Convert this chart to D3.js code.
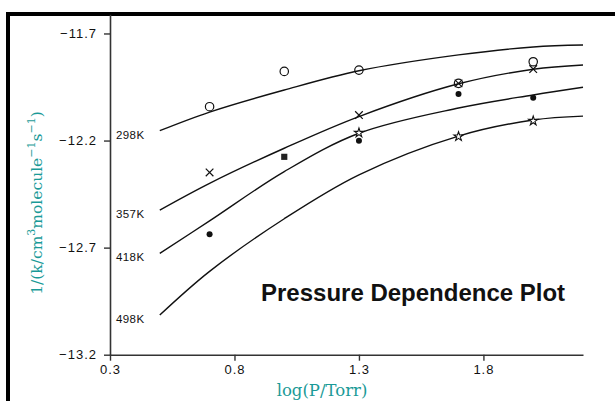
<!DOCTYPE html>
<html><head><meta charset="utf-8">
<script src="https://cdn.jsdelivr.net/npm/d3@7"></script>
<style>body{margin:0;background:#fff}svg{display:block}</style>
</head><body>
<script>
// ---- data ----
const xTicks = [0.3, 0.8, 1.3, 1.8];
const yTicks = [-13.2, -12.7, -12.2, -11.7];
const curveLabels = ["298K", "357K", "418K", "498K"];
const curveX = [0.5, 0.7, 1.0, 1.3, 1.7, 2.0, 2.2];
const curve298 = [-12.154, -12.067, -11.964, -11.874, -11.800, -11.763, -11.754];
const curve357 = [-12.525, -12.400, -12.236, -12.088, -11.935, -11.867, -11.847];
const curve418 = [-12.727, -12.575, -12.345, -12.166, -12.048, -11.987, -11.951];
const curve498 = [-13.015, -12.811, -12.565, -12.360, -12.179, -12.104, -12.086];
const circleX = [0.7, 1.0, 1.3, 1.7, 2.0];
const circleY = [-12.042, -11.877, -11.871, -11.933, -11.832];
const crossX = [0.7, 1.3, 1.7, 2.0];
const crossY = [-12.349, -12.081, -11.933, -11.866];
const dotX = [0.7, 1.3, 1.7, 2.0];
const dotY = [-12.638, -12.201, -11.983, -12.000];
const starX = [1.3, 1.7, 2.0];
const starY = [-12.164, -12.181, -12.108];
const squareX = [1.0];
const squareY = [-12.276];
const title = "Pressure Dependence Plot";

const W = 615, H = 401;
const svg = d3.select("body").append("svg").attr("width", W).attr("height", H);

const x = d3.scaleLinear().domain([0.3, 2.2]).range([110, 583]);
const y = d3.scaleLinear().domain([-13.2, -11.61]).range([354.7, 14.2]);

// frame
svg.append("rect").attr("x", 8).attr("y", 14).attr("width", 620).attr("height", 420)
  .attr("fill", "none").attr("stroke", "#000").attr("stroke-width", 4);

const axisColor = "#333";
const gx = svg.append("g").attr("transform", "translate(0,354.7)")
  .call(d3.axisBottom(x).tickValues(xTicks).tickFormat(d3.format(".1f")).tickSizeOuter(0).tickSizeInner(6).tickPadding(4));
const gy = svg.append("g").attr("transform", "translate(110,0)")
  .call(d3.axisLeft(y).tickValues(yTicks).tickFormat(d3.format(".1f")).tickSizeOuter(0).tickSizeInner(6).tickPadding(7));
[gx, gy].forEach(g => {
  g.select(".domain").attr("stroke", axisColor).attr("stroke-width", 1.6);
  g.selectAll(".tick line").attr("stroke", axisColor).attr("stroke-width", 1.4);
  g.selectAll(".tick text").attr("fill", "#111").style("font-family", "'Liberation Sans', Arial, sans-serif")
    .style("font-size", "13px").style("letter-spacing", "1px");
});

// curves
const line = d3.line().x(d => x(d[0])).y(d => y(d[1])).curve(d3.curveCatmullRom.alpha(0.5));
const curves = [curve298, curve357, curve418, curve498];
curves.forEach((c, i) => {
  svg.append("path").datum(curveX.map((v, j) => [v, c[j]]))
    .attr("d", line).attr("fill", "none").attr("stroke", "#111").attr("stroke-width", 1.4);
  svg.append("text").attr("x", 116).attr("y", y(c[0]) + 8)
    .style("font-family", "'Liberation Sans', Arial, sans-serif").style("font-size", "11.5px")
    .style("letter-spacing", "0.4px").attr("fill", "#111").text(curveLabels[i]);
});

// markers
const mk = (xs, ys) => xs.map((v, i) => [x(v), y(ys[i])]);
svg.selectAll(".circ").data(mk(circleX, circleY)).join("circle")
  .attr("cx", d => d[0]).attr("cy", d => d[1]).attr("r", 4.2)
  .attr("fill", "none").attr("stroke", "#111").attr("stroke-width", 1.2);
svg.selectAll(".cross").data(mk(crossX, crossY)).join("path")
  .attr("transform", d => `translate(${d[0]},${d[1]}) rotate(45)`)
  .attr("d", d3.symbol(d3.symbolCross2 || d3.symbolPlus, 40))
  .attr("fill", "none").attr("stroke", "#111").attr("stroke-width", 1.2);
svg.selectAll(".dot").data(mk(dotX, dotY)).join("circle")
  .attr("cx", d => d[0]).attr("cy", d => d[1]).attr("r", 3).attr("fill", "#111");
svg.selectAll(".star").data(mk(starX, starY)).join("path")
  .attr("transform", d => `translate(${d[0]},${d[1]})`)
  .attr("d", d3.symbol(d3.symbolStar, 26))
  .attr("fill", "#fff").attr("stroke", "#111").attr("stroke-width", 1.1);
svg.selectAll(".sq").data(mk(squareX, squareY)).join("path")
  .attr("transform", d => `translate(${d[0]},${d[1]})`)
  .attr("d", d3.symbol(d3.symbolSquare, 38)).attr("fill", "#222");

// title
svg.append("text").attr("x", 261).attr("y", 300.5)
  .style("font-family", "'Liberation Sans', Arial, sans-serif").style("font-weight", "bold")
  .style("font-size", "24px").attr("fill", "#111").text(title);

// axis titles
const teal = "#1a9a97";
svg.append("text").attr("x", 322).attr("y", 396).attr("text-anchor", "middle")
  .style("font-family", "'DejaVu Serif', serif").style("font-size", "16.5px").attr("fill", teal)
  .text("log(P/Torr)");
const yt = svg.append("text").attr("transform", "translate(42,203) rotate(-90)").attr("text-anchor", "middle")
  .style("font-family", "'DejaVu Serif', serif").style("font-size", "15.5px").attr("fill", teal);
yt.append("tspan").text("1/(k/cm");
yt.append("tspan").attr("dy", -7).style("font-size", "11px").text("3");
yt.append("tspan").attr("dy", 7).text("molecule");
yt.append("tspan").attr("dy", -7).style("font-size", "11px").text("−1");
yt.append("tspan").attr("dy", 7).text("s");
yt.append("tspan").attr("dy", -7).style("font-size", "11px").text("−1");
yt.append("tspan").attr("dy", 7).text(")");
</script>
</body></html>
